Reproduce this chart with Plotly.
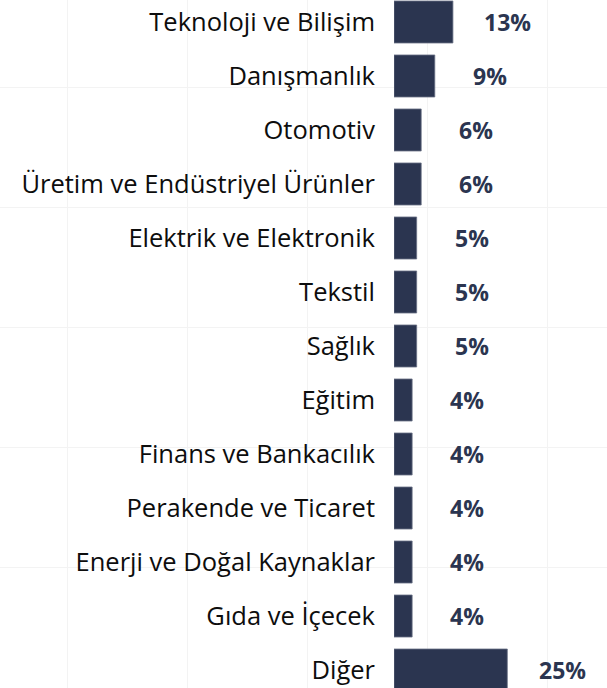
import plotly.graph_objects as go

categories = [
    "Teknoloji ve Bilişim", "Danışmanlık", "Otomotiv",
    "Üretim ve Endüstriyel Ürünler", "Elektrik ve Elektronik", "Tekstil",
    "Sağlık", "Eğitim", "Finans ve Bankacılık", "Perakende ve Ticaret",
    "Enerji ve Doğal Kaynaklar", "Gıda ve İçecek", "Diğer",
]
values = [13, 9, 6, 6, 5, 5, 5, 4, 4, 4, 4, 4, 25]
value_labels = [f"{v}%" for v in values]

# decorative background grid (page pixel positions)
grid_x = [67, 187, 307, 427, 547]
grid_y = [87, 207, 327, 447, 567, 687]

BAR = "#2b3550"
W, H = 607, 688

fig = go.Figure()

# invisible trace to create the background grid subplot
fig.add_trace(go.Scatter(x=[0], y=[0], mode="markers", marker=dict(opacity=0),
                         hoverinfo="skip", showlegend=False, xaxis="x", yaxis="y"))

fig.add_trace(go.Bar(
    x=values, y=categories, orientation="h",
    marker=dict(color=BAR, line=dict(color="#6a7185", width=0.8)),
    xaxis="x2", yaxis="y2", showlegend=False, hoverinfo="skip",
))

annotations = []
for c, v, t in zip(categories, values, value_labels):
    annotations.append(dict(
        x=v, y=c, xref="x2", yref="y2", text=t, showarrow=False,
        xanchor="center", yanchor="middle", xshift=55,
        font=dict(family="Open Sans", size=23, color=BAR, weight="bold"),
    ))

n = len(categories)
fig.update_layout(
    width=W, height=H,
    margin=dict(l=0, r=0, t=0, b=0),
    paper_bgcolor="white", plot_bgcolor="rgba(0,0,0,0)",
    bargap=0.222,
    annotations=annotations,
    xaxis=dict(domain=[0, 1], range=[0, W], tickvals=grid_x, showgrid=True,
               gridcolor="#f3f3f3", gridwidth=1, showticklabels=False,
               zeroline=False, showline=False, fixedrange=True),
    yaxis=dict(domain=[0, 1], range=[H, 0], tickvals=grid_y, showgrid=True,
               gridcolor="#f3f3f3", gridwidth=1, showticklabels=False,
               zeroline=False, showline=False, fixedrange=True),
    xaxis2=dict(domain=[394 / W, 1], range=[0, 47.0], anchor="y2",
                showgrid=False, zeroline=False, showticklabels=False,
                showline=False),
    yaxis2=dict(domain=[0, 1], anchor="x2", type="category",
                categoryorder="array", categoryarray=categories,
                range=[n - 1 + 0.333, -0.407],
                showgrid=False, zeroline=False, showline=False,
                ticks="", ticklabelstandoff=18,
                tickfont=dict(family="Open Sans", size=25.5, color="#0d0d0d")),
)

fig.write_html(
    "out.html",
    config=dict(displayModeBar=False),
    post_script="document.body.style.margin='0px';document.body.style.overflow='hidden';",
)
